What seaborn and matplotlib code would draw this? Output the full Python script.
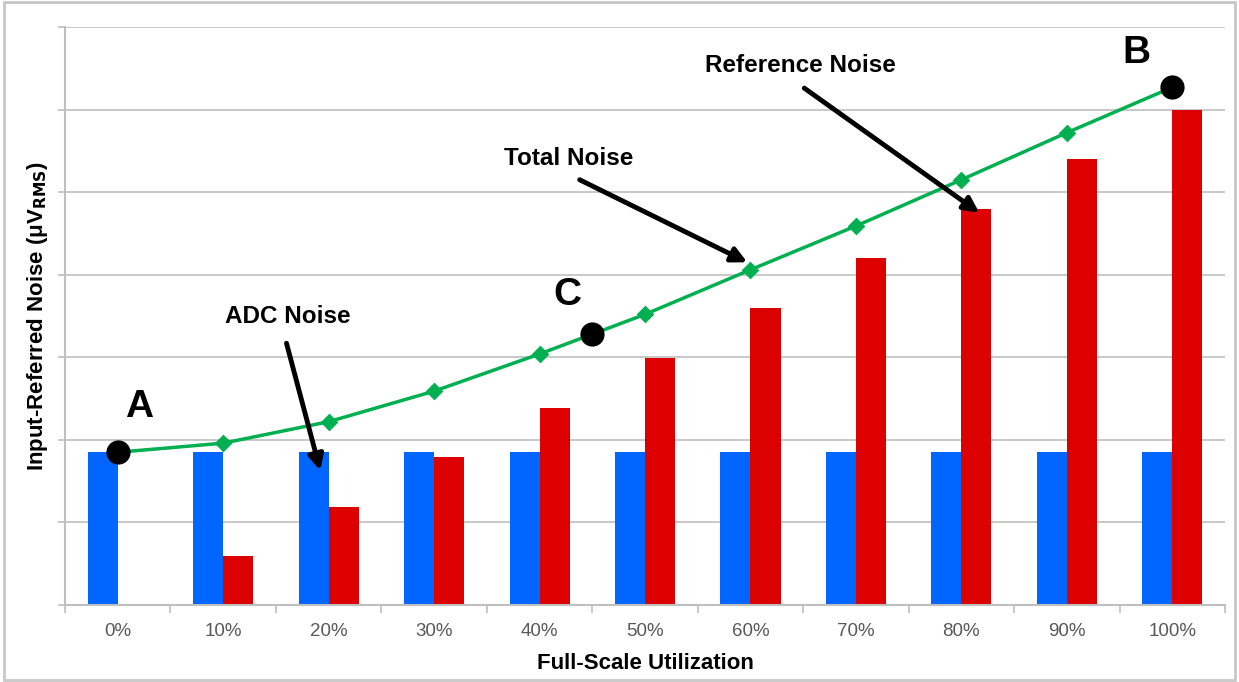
import numpy as np
import pandas as pd
import matplotlib
matplotlib.use("Agg")
import matplotlib.pyplot as plt
import seaborn as sns
from matplotlib.patches import Rectangle

# data (units = gridline steps)
utilization = ["0%", "10%", "20%", "30%", "40%", "50%", "60%", "70%", "80%", "90%", "100%"]
adc_noise = [1.85, 1.85, 1.85, 1.85, 1.85, 1.85, 1.85, 1.85, 1.85, 1.85, 1.85]
ref_noise = [0.0, 0.59, 1.19, 1.79, 2.39, 2.99, 3.60, 4.20, 4.80, 5.40, 6.00]
total_noise = [1.85, 1.96, 2.22, 2.59, 3.04, 3.52, 4.06, 4.59, 5.15, 5.72, 6.27]
point_labels = ["A", "C", "B"]
point_x = [0, 4.5, 10]
point_y = [1.85, 3.28, 6.27]

BLUE = "#0066ff"
RED = "#dd0000"
GREEN = "#00b050"
GRID = "#bfbfbf"

sns.set_style("white")
plt.rcParams["font.family"] = ["Liberation Sans", "DejaVu Sans"]
plt.rcParams["text.color"] = "black"
plt.rcParams["axes.labelcolor"] = "black"

bars = pd.DataFrame({
    "util": utilization * 2,
    "noise": adc_noise + ref_noise,
    "source": ["ADC"] * len(utilization) + ["Reference"] * len(utilization),
})

fig = plt.figure(figsize=(12.39, 6.82), dpi=100)
ax = fig.add_axes([0.0525, 0.1129, 0.9362, 0.8475])

sns.barplot(data=bars, x="util", y="noise", hue="source", palette=[BLUE, RED],
            width=0.57, gap=0, saturation=1, linewidth=0, legend=False, ax=ax, zorder=2)

xi = np.arange(len(utilization))
sns.lineplot(x=xi, y=total_noise, color=GREEN, linewidth=2.5, ax=ax, zorder=3)
sns.scatterplot(x=xi[1:-1], y=total_noise[1:-1], marker="D", s=70, color=GREEN,
                edgecolor=GREEN, ax=ax, zorder=4)
sns.scatterplot(x=point_x, y=point_y, s=260, color="black", edgecolor="black",
                ax=ax, zorder=5)

ax.set_xlim(-0.5, len(utilization) - 0.5)
ax.set_ylim(0, 7)
ax.set_yticks(np.arange(0, 8))
ax.set_yticklabels([])
ax.yaxis.grid(True, color=GRID, linewidth=1.2)
ax.set_axisbelow(True)
for s in ["top", "right"]:
    ax.spines[s].set_visible(False)
for s in ["left", "bottom"]:
    ax.spines[s].set_color(GRID)
    ax.spines[s].set_linewidth(1.5)

# ticks: y ticks outward, x ticks between categories
ax.tick_params(axis="y", direction="out", length=5, color=GRID, width=1.2, left=True)
ax.set_xticks(xi)
ax.set_xticklabels(utilization, fontsize=13.5, color="#595959")
ax.tick_params(axis="x", length=0, pad=13)
ax.set_xticks(np.arange(-0.5, len(utilization)), minor=True)
ax.tick_params(axis="x", which="minor", direction="out", length=6, color=GRID, width=1.2, bottom=True)

ax.set_xlabel("Full-Scale Utilization", fontsize=16, fontweight="bold", labelpad=9)
ax.set_ylabel(r"Input-Referred Noise (μV$_{\mathbf{RMS}}$)", fontsize=16,
              fontweight="bold", labelpad=2)

# point labels
label_offsets = {"A": (0.2, 0.55), "C": (-0.24, 0.47), "B": (-0.34, 0.42)}
for lab, px, py in zip(point_labels, point_x, point_y):
    dx, dy = label_offsets[lab]
    ax.text(px + dx, py + dy, lab, fontsize=28, fontweight="bold", ha="center", va="center")

# callouts with arrows
arrow = dict(arrowstyle="-|>,head_length=0.9,head_width=0.45", color="black", lw=3.5,
             shrinkA=0, shrinkB=0)
ax.annotate("", xy=(1.92, 1.63), xytext=(1.60, 3.17), arrowprops=arrow)
ax.text(1.61, 3.50, "ADC Noise", fontsize=17.5, fontweight="bold", ha="center", va="center")
ax.annotate("", xy=(5.97, 4.15), xytext=(4.38, 5.15), arrowprops=arrow)
ax.text(4.28, 5.41, "Total Noise", fontsize=17.5, fontweight="bold", ha="center", va="center")
ax.annotate("", xy=(8.17, 4.75), xytext=(6.51, 6.26), arrowprops=arrow)
ax.text(6.47, 6.53, "Reference Noise", fontsize=17.5, fontweight="bold", ha="center", va="center")

# light frame around the whole picture
fig.patches.append(Rectangle((0.003, 0.003), 0.994, 0.994, transform=fig.transFigure,
                             fill=False, edgecolor="#c8c8c8", linewidth=2))

fig.savefig("out.png", dpi=100)
